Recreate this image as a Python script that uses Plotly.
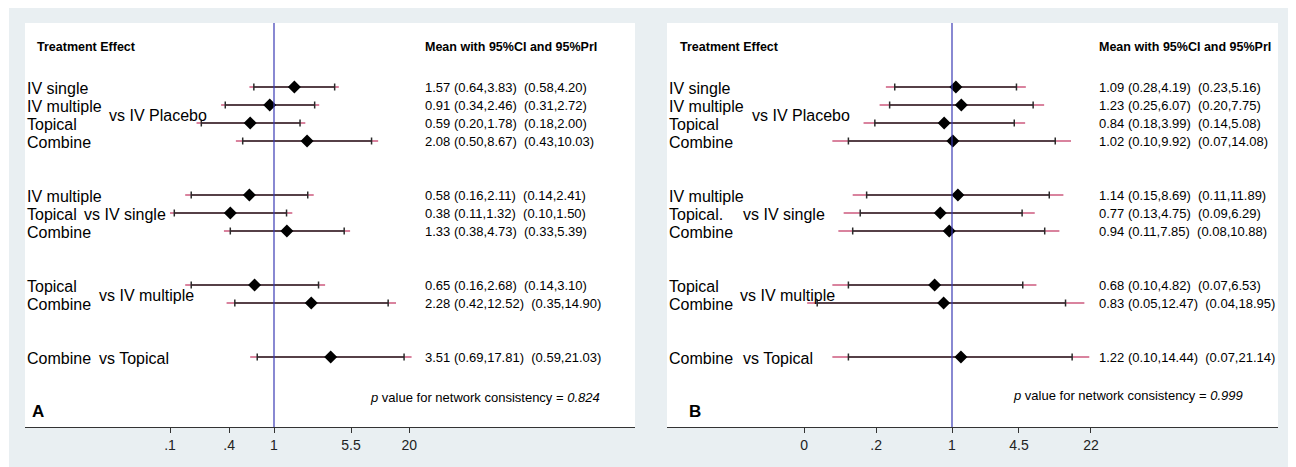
import plotly.graph_objects as go

# ---------------- data ----------------
group_names = ["vs IV Placebo", "vs IV single", "vs IV multiple", "vs Topical"]
group_sizes = [4, 3, 2, 1]

labels_A = ["IV single", "IV multiple", "Topical", "Combine",
            "IV multiple", "Topical", "Combine",
            "Topical", "Combine",
            "Combine"]
mean_A = [1.57, 0.91, 0.59, 2.08, 0.58, 0.38, 1.33, 0.65, 2.28, 3.51]
ci_lo_A = [0.64, 0.34, 0.20, 0.50, 0.16, 0.11, 0.38, 0.16, 0.42, 0.69]
ci_hi_A = [3.83, 2.46, 1.78, 8.67, 2.11, 1.32, 4.73, 2.68, 12.52, 17.81]
pri_lo_A = [0.58, 0.31, 0.18, 0.43, 0.14, 0.10, 0.33, 0.14, 0.35, 0.59]
pri_hi_A = [4.20, 2.72, 2.00, 10.03, 2.41, 1.50, 5.39, 3.10, 14.90, 21.03]
pval_A = "0.824"

labels_B = ["IV single", "IV multiple", "Topical", "Combine",
            "IV multiple", "Topical.", "Combine",
            "Topical", "Combine",
            "Combine"]
mean_B = [1.09, 1.23, 0.84, 1.02, 1.14, 0.77, 0.94, 0.68, 0.83, 1.22]
ci_lo_B = [0.28, 0.25, 0.18, 0.10, 0.15, 0.13, 0.11, 0.10, 0.05, 0.10]
ci_hi_B = [4.19, 6.07, 3.99, 9.92, 8.69, 4.75, 7.85, 4.82, 12.47, 14.44]
pri_lo_B = [0.23, 0.20, 0.14, 0.07, 0.11, 0.09, 0.08, 0.07, 0.04, 0.07]
pri_hi_B = [5.16, 7.75, 5.08, 14.08, 11.89, 6.29, 10.88, 6.53, 18.95, 21.14]
pval_B = "0.999"

tickvals_A = [0.1, 0.37, 1, 5.5, 20]
ticktext_A = [".1", ".4", "1", "5.5", "20"]
tickvals_B = [0.0373, 0.185, 1, 4.43, 21.95]
ticktext_B = ["0", ".2", "1", "4.5", "22"]

# ---------------- layout constants ----------------
# page body has an 8px margin: the figure starts at (8, 8) in the window
OX, OY = 8, 8
W, H = 1296 - OX, 467 - OY
FONT = "Liberation Sans, Arial, Helvetica, sans-serif"
GREY = "#e9eff2"
PINK = "#cc5a7e"
BLUE = "#3a3ab4"
ROW_TOP_PX = 87.0
ROW_H = 18.0
PLOT_TOP, PLOT_BOT = 23.0, 427.0


def px_x(v):
    return (v - OX) / W


def px_y(v):
    return 1 - (v - OY) / H


# row positions (group structure with two blank rows between groups)
rows = []
k = 0
group_rows = []
for gi, n in enumerate(group_sizes):
    g = []
    for j in range(n):
        rows.append(k)
        g.append(k)
        k += 1
    group_rows.append(g)
    k += 2


def k_of(px):
    return (px - ROW_TOP_PX) / ROW_H


yr = [k_of(PLOT_BOT), k_of(PLOT_TOP)]
ydom = [px_y(PLOT_BOT), px_y(PLOT_TOP)]

panels = [
    dict(name="A", xa="x", ya="y", left=25, right=635, one=274, ppd=104.0,
         labels=labels_A, mean=mean_A, cl=ci_lo_A, ch=ci_hi_A, pl=pri_lo_A, ph=pri_hi_A,
         tv=tickvals_A, tt=ticktext_A, pval=pval_A,
         label_x=25, group_x=[107, 82, 97, 97], num_x=423, head_x=35,
         p_x=368, p_y=397.5, letter_x=30),
    dict(name="B", xa="x2", ya="y2", left=667, right=1278, one=952, ppd=103.6,
         labels=labels_B, mean=mean_B, cl=ci_lo_B, ch=ci_hi_B, pl=pri_lo_B, ph=pri_hi_B,
         tv=tickvals_B, tt=ticktext_B, pval=pval_B,
         label_x=667, group_x=[750, 741, 738, 741], num_x=1097, head_x=678,
         p_x=1011, p_y=395.5, letter_x=687),
]

fig = go.Figure()
shapes = [dict(type="rect", xref="paper", yref="paper", x0=px_x(9), x1=1, y0=0, y1=px_y(7),
               fillcolor=GREY, line=dict(width=0), layer="below")]
annotations = []

for i, p in enumerate(panels):
    xa, ya = p["xa"], p["ya"]
    # white plotting area
    shapes.append(dict(type="rect", xref="paper", yref="paper",
                       x0=px_x(p["left"]), x1=px_x(p["right"]), y0=ydom[0], y1=ydom[1],
                       fillcolor="white", line=dict(width=0), layer="below"))
    # reference line at 1
    shapes.append(dict(type="line", xref=xa, yref=ya + " domain", x0=1, x1=1, y0=0, y1=1,
                       line=dict(color=BLUE, width=1.2)))

    # prediction interval (pink)
    px_, py_ = [], []
    for r, lo, hi in zip(rows, p["pl"], p["ph"]):
        px_ += [lo, hi, None]
        py_ += [r, r, None]
    fig.add_trace(go.Scatter(x=px_, y=py_, mode="lines", xaxis=xa, yaxis=ya,
                             line=dict(color=PINK, width=1.6), hoverinfo="skip", showlegend=False))
    # confidence interval (black)
    cx_, cy_ = [], []
    for r, lo, hi in zip(rows, p["cl"], p["ch"]):
        cx_ += [lo, hi, None]
        cy_ += [r, r, None]
    fig.add_trace(go.Scatter(x=cx_, y=cy_, mode="lines", xaxis=xa, yaxis=ya,
                             line=dict(color="#2a2a2a", width=1.4), hoverinfo="skip", showlegend=False))
    # CI caps
    fig.add_trace(go.Scatter(x=p["cl"] + p["ch"], y=rows + rows, mode="markers", xaxis=xa, yaxis=ya,
                             marker=dict(symbol="line-ns", size=5, line=dict(color="#2a2a2a", width=1.5)),
                             hoverinfo="skip", showlegend=False))
    # means
    fig.add_trace(go.Scatter(x=p["mean"], y=rows, mode="markers", xaxis=xa, yaxis=ya,
                             marker=dict(symbol="diamond", size=10, color="black"),
                             showlegend=False))

    xlo = (p["left"] - p["one"]) / p["ppd"]
    xhi = (p["right"] - p["one"]) / p["ppd"]
    axis_key = "xaxis" if i == 0 else "xaxis2"
    yaxis_key = "yaxis" if i == 0 else "yaxis2"
    fig.update_layout(**{
        axis_key: dict(type="log", range=[xlo, xhi], domain=[px_x(p["left"]), px_x(p["right"])],
                       anchor=ya, showgrid=False, zeroline=False, showline=True,
                       linecolor="#333333", linewidth=1.2, ticks="outside", ticklen=5,
                       tickcolor="#333333", tickvals=p["tv"], ticktext=p["tt"],
                       tickfont=dict(family=FONT, size=14, color="#222222"), fixedrange=True),
        yaxis_key: dict(range=yr, domain=ydom, anchor=xa, visible=False, showgrid=False,
                        zeroline=False, fixedrange=True),
    })

    # treatment labels
    for lab, r in zip(p["labels"], rows):
        annotations.append(dict(xref="paper", yref=ya, x=px_x(p["label_x"]), y=r, text=lab,
                                xanchor="left", yanchor="middle", showarrow=False, yshift=-1,
                                font=dict(family=FONT, size=16, color="black")))
    # group labels
    for gname, grows, gx in zip(group_names, group_rows, p["group_x"]):
        gy = sum(grows) / len(grows)
        annotations.append(dict(xref="paper", yref=ya, x=px_x(gx), y=gy, text=gname,
                                xanchor="left", yanchor="middle", showarrow=False, yshift=-1,
                                font=dict(family=FONT, size=16, color="black")))
    # numeric text
    for r, m, lo, hi, plo, phi in zip(rows, p["mean"], p["cl"], p["ch"], p["pl"], p["ph"]):
        txt = f"{m:.2f} ({lo:.2f},{hi:.2f})\u00a0\u00a0({plo:.2f},{phi:.2f})"
        annotations.append(dict(xref="paper", yref=ya, x=px_x(p["num_x"]), y=r, text=txt,
                                xanchor="left", yanchor="middle", showarrow=False,
                                font=dict(family=FONT, size=13, color="black")))
    # headers
    annotations.append(dict(xref="paper", yref=ya, x=px_x(p["head_x"]), y=k_of(47), text="<b>Treatment Effect</b>",
                            xanchor="left", yanchor="middle", showarrow=False,
                            font=dict(family=FONT, size=12.5, color="black")))
    annotations.append(dict(xref="paper", yref=ya, x=px_x(p["num_x"]), y=k_of(47),
                            text="<b>Mean with 95%CI and 95%PrI</b>",
                            xanchor="left", yanchor="middle", showarrow=False,
                            font=dict(family=FONT, size=12.5, color="black")))
    # p value
    annotations.append(dict(xref="paper", yref=ya, x=px_x(p["p_x"]), y=k_of(p["p_y"]),
                            text=f"<i>p</i> value for network consistency = <i>{p['pval']}</i>",
                            xanchor="left", yanchor="middle", showarrow=False,
                            font=dict(family=FONT, size=13, color="black")))
    # panel letter
    annotations.append(dict(xref="paper", yref=ya, x=px_x(p["letter_x"]), y=k_of(411), text=f"<b>{p['name']}</b>",
                            xanchor="left", yanchor="middle", showarrow=False,
                            font=dict(family=FONT, size=17, color="black")))

fig.update_layout(width=W, height=H, margin=dict(l=0, r=0, t=0, b=0),
                  paper_bgcolor="white", plot_bgcolor="rgba(0,0,0,0)",
                  shapes=shapes, annotations=annotations, showlegend=False,
                  font=dict(family=FONT))

fig.write_html("out.html")
